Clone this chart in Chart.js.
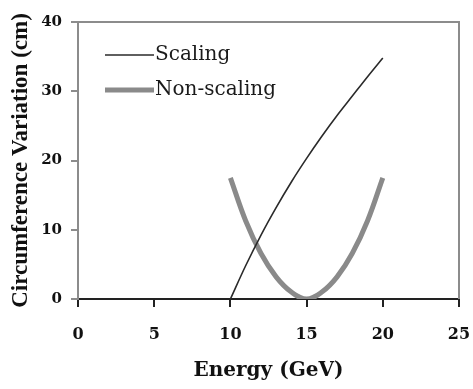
<!DOCTYPE html>
<html>
<head>
<meta charset="utf-8">
<script src="https://cdn.jsdelivr.net/npm/chart.js@4.4.0/dist/chart.umd.min.js"></script>
<style>
  html, body { margin: 0; padding: 0; background: #fff; }
  #wrap { width: 473px; height: 389px; }
</style>
</head>
<body>
<div id="wrap"><canvas id="c" width="473" height="389"></canvas></div>
<script>
const energy = [10, 11, 12, 13, 14, 15, 16, 17, 18, 19, 20];
const scaling = [0, 4.8, 9.2, 13.2, 16.9, 20.3, 23.5, 26.5, 29.3, 32.1, 34.8];
const nonScaling = [17.5, 11.3, 6.6, 3.2, 1.0, 0, 1.0, 3.2, 6.6, 11.3, 17.5];
const seriesNames = ['Scaling', 'Non-scaling'];
const xTicks = [0, 5, 10, 15, 20, 25];
const yTicks = [0, 10, 20, 30, 40];

const serif = '"Liberation Serif", "DejaVu Serif", serif';
const wideSerif = '"DejaVu Serif", serif';

const toPoints = ys => energy.map((x, i) => ({ x, y: ys[i] }));

// top/right frame + in-plot legend
const extras = {
  id: 'extras',
  afterDraw(chart) {
    const { ctx, chartArea: a } = chart;
    ctx.save();
    ctx.strokeStyle = '#8c8c8c';
    ctx.lineWidth = 2;
    ctx.beginPath();
    ctx.moveTo(a.left, a.top);
    ctx.lineTo(a.right, a.top);
    ctx.lineTo(a.right, a.bottom);
    ctx.stroke();

    ctx.font = '20px ' + wideSerif;
    ctx.textBaseline = 'middle';
    chart.data.datasets.forEach((ds, i) => {
      const y = 55 + i * 35;
      ctx.strokeStyle = ds.borderColor;
      ctx.lineWidth = ds.borderWidth;
      ctx.beginPath();
      ctx.moveTo(105, y);
      ctx.lineTo(154, y);
      ctx.stroke();
      ctx.fillStyle = '#1a1a1a';
      ctx.fillText(ds.label, 155, y);
    });
    ctx.restore();
  }
};

new Chart(document.getElementById('c'), {
  type: 'line',
  data: {
    datasets: [
      {
        label: seriesNames[0],
        data: toPoints(scaling),
        borderColor: '#2a2a2a',
        borderWidth: 1.6,
        pointRadius: 0,
        cubicInterpolationMode: 'monotone',
        fill: false
      },
      {
        label: seriesNames[1],
        data: toPoints(nonScaling),
        borderColor: '#8a8a8a',
        borderWidth: 5,
        pointRadius: 0,
        tension: 0.4,
        fill: false
      }
    ]
  },
  options: {
    responsive: false,
    animation: false,
    layout: { padding: { left: 0, top: 22, right: 14, bottom: 0 } },
    plugins: {
      legend: { display: false },
      tooltip: { enabled: false }
    },
    scales: {
      x: {
        type: 'linear',
        min: 0,
        max: 25,
        afterBuildTicks: s => { s.ticks = xTicks.map(v => ({ value: v })); },
        afterFit: s => { s.height = 90; s.paddingRight = 0; s.paddingLeft = 0; },
        border: { color: '#222', width: 2 },
        grid: { drawOnChartArea: false, drawTicks: true, tickLength: 8, color: '#222', lineWidth: 2 },
        ticks: { color: '#111', padding: 18, maxRotation: 0, font: { family: wideSerif, size: 16, weight: 'bold' } },
        title: {
          display: true,
          text: 'Energy (GeV)',
          color: '#111',
          padding: { top: 0, bottom: 6 },
          font: { family: wideSerif, size: 20, weight: 'bold' }
        }
      },
      y: {
        min: 0,
        max: 40,
        afterBuildTicks: s => { s.ticks = yTicks.map(v => ({ value: v })); },
        afterFit: s => { s.width = 78; s.paddingTop = 0; s.paddingBottom = 0; },
        border: { color: '#8c8c8c', width: 2 },
        grid: { drawOnChartArea: false, drawTicks: true, tickLength: 7, color: '#8c8c8c', lineWidth: 2 },
        ticks: { color: '#111', padding: 9, font: { family: wideSerif, size: 15, weight: 'bold' } },
        title: {
          display: true,
          text: 'Circumference Variation (cm)',
          color: '#111',
          padding: { top: 7, bottom: 0 },
          font: { family: serif, size: 23, weight: 'bold' }
        }
      }
    }
  },
  plugins: [extras]
});
</script>
</body>
</html>
